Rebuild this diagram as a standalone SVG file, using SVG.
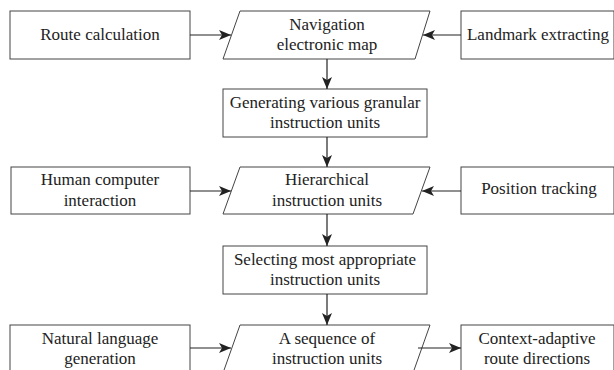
<svg xmlns="http://www.w3.org/2000/svg" width="614" height="370" viewBox="0 0 614 370">
<defs>
<marker id="ah" viewBox="0 0 12 10" refX="12" refY="5" markerWidth="12" markerHeight="10" markerUnits="userSpaceOnUse" orient="auto">
<path d="M0,0 L12,5 L0,10 L3,5 Z" fill="#222"/>
</marker>
<style>
.b{fill:#fff;stroke:#444;stroke-width:1}
.t{font-size:17px;fill:#222;text-anchor:middle}
.c{stroke:#222;stroke-width:1.2;fill:none;marker-end:url(#ah)}
</style>
</defs>
<rect width="614" height="370" fill="#fff"/>
<g font-family="Liberation Serif, serif">
<g id="route"><rect class="b" x="10" y="11" width="180" height="48"/><text class="t" x="100" y="40">Route calculation</text></g>
<g id="navmap"><polygon class="b" points="240,11 430,11 415,59 223,59"/><text class="t" x="327" y="29.5">Navigation</text><text class="t" x="327" y="50">electronic map</text></g>
<g id="landmark"><rect class="b" x="461" y="11" width="153" height="48"/><text class="t" x="538" y="40">Landmark extracting</text></g>
<g id="generating"><rect class="b" x="223" y="89" width="204" height="48"/><text class="t" x="325" y="107.5">Generating various granular</text><text class="t" x="325" y="128">instruction units</text></g>
<g id="hci"><rect class="b" x="11" y="167" width="179" height="47"/><text class="t" x="100" y="185">Human computer</text><text class="t" x="100" y="205.5">interaction</text></g>
<g id="hier"><polygon class="b" points="240,167 430,167 413,214 223,214"/><text class="t" x="327" y="185">Hierarchical</text><text class="t" x="327" y="205.5">instruction units</text></g>
<g id="position"><rect class="b" x="461" y="167" width="153" height="47"/><text class="t" x="539" y="194">Position tracking</text></g>
<g id="selecting"><rect class="b" x="223" y="246" width="204" height="48"/><text class="t" x="325" y="264.5">Selecting most appropriate</text><text class="t" x="325" y="285">instruction units</text></g>
<g id="nlg"><rect class="b" x="10" y="325" width="180" height="48"/><text class="t" x="100" y="343.5">Natural language</text><text class="t" x="100" y="364">generation</text></g>
<g id="sequence"><polygon class="b" points="240,325 430,325 413,373 223,373"/><text class="t" x="327" y="343.5">A sequence of</text><text class="t" x="327" y="364">instruction units</text></g>
<g id="context"><rect class="b" x="461" y="325" width="153" height="48"/><text class="t" x="537" y="343.5">Context-adaptive</text><text class="t" x="537" y="364">route directions</text></g>
</g>
<g id="connectors">
<line class="c" x1="190" y1="35" x2="231" y2="35"/>
<line class="c" x1="461" y1="35" x2="423" y2="35"/>
<line class="c" x1="327" y1="59" x2="327" y2="89"/>
<line class="c" x1="327" y1="137" x2="327" y2="167"/>
<line class="c" x1="190" y1="191" x2="231" y2="191"/>
<line class="c" x1="461" y1="191" x2="422" y2="191"/>
<line class="c" x1="327" y1="214" x2="327" y2="246"/>
<line class="c" x1="327" y1="294" x2="327" y2="325"/>
<line class="c" x1="190" y1="348" x2="231" y2="348"/>
<line class="c" x1="418" y1="348" x2="461" y2="348"/>
</g>
</svg>
